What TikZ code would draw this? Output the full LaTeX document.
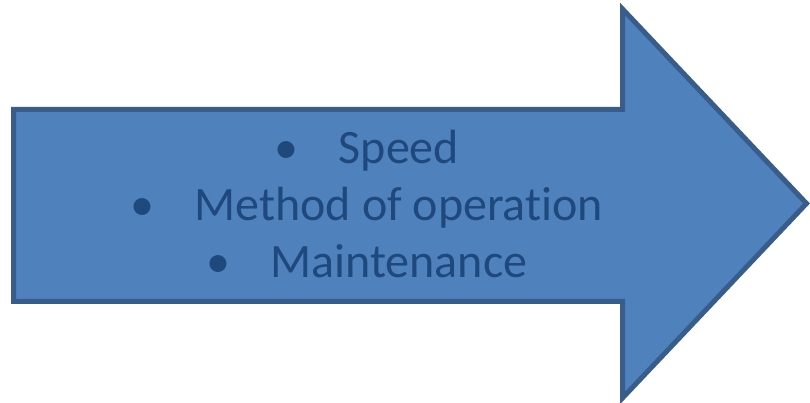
\documentclass[tikz,border=0pt]{standalone}
\usepackage{fontspec}
\setmainfont{Carlito}[Ligatures=NoCommon]
\usepackage{xcolor}
\usepackage{tikz}
\usetikzlibrary{calc}
\definecolor{arrowfill}{RGB}{79,129,189}
\definecolor{arrowline}{RGB}{56,93,138}
\definecolor{itemtext}{RGB}{31,73,125}
\tikzset{
  bigarrow/.style={draw=arrowline, fill=arrowfill, line width=5pt, line join=miter},
  itemlist/.style={text=itemtext, align=center, inner sep=0pt,
    font=\fontsize{48}{57}\selectfont}
}
\newcommand{\itembullet}[1]{\textbullet\hspace{40pt}#1}
\begin{document}
\begin{tikzpicture}[x=1pt, y=1pt]
  \useasboundingbox (0,0) rectangle (810,403);
  % Block arrow
  \draw[bigarrow] (13.5,101.5) -- (13.5,293.5) -- (622.5,293.5) -- (622.5,394)
    -- (806.5,199.5) -- (622.5,5) -- (622.5,101.5) -- cycle;
  % Items
  \node[itemlist] (items) at (367,199) {\itembullet{Speed}\\ \itembullet{Method of operation}\\ \itembullet{Maintenance}};
\end{tikzpicture}
\end{document}
